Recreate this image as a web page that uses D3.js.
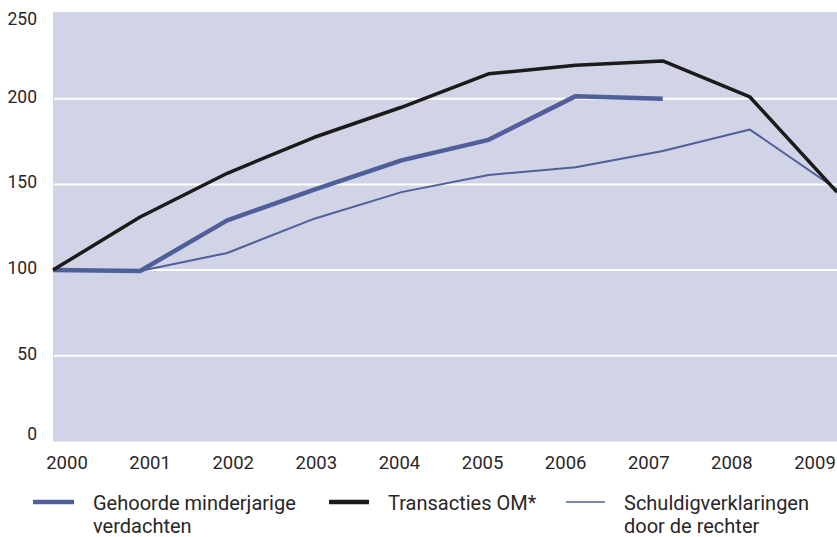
<!DOCTYPE html>
<html>
<head>
<meta charset="utf-8">
<script src="https://cdn.jsdelivr.net/npm/d3@7"></script>
<style>
  body { margin: 0; background: #fff; }
  svg text { font-family: Roboto, "Liberation Sans", sans-serif; fill: #2a2627; }
</style>
</head>
<body>
<div id="chart"></div>
<script>
const WIDTH = 837;
const HEIGHT = 537;

// data (index 2000 = 100)
const years = [2000, 2001, 2002, 2003, 2004, 2005, 2006, 2007, 2008, 2009];
const gehoorde = [100, 99.5, 129, 147, 164, 176, 201.5, 200, null, null];
const transacties = [100, 131, 156.5, 177.5, 195, 214.5, 219.5, 222, 201, 145.5];
const schuldig = [100, 99.5, 110, 130, 145.5, 155.5, 160, 169.5, 182, 147];
const yTicks = [0, 50, 100, 150, 200, 250];

const series = [
  { name: ['Gehoorde minderjarige', 'verdachten'], values: gehoorde, color: '#4f5f9a', width: 4.5, lx: 33, sw: 41, tx: 93 },
  { name: ['Transacties OM*'], values: transacties, color: '#1c1a1a', width: 3.5, lx: 329, sw: 40, tx: 388 },
  { name: ['Schuldigverklaringen', 'door de rechter'], values: schuldig, color: '#4f5f9a', width: 2, lx: 566, sw: 39, tx: 624 }
];

const plot = { left: 53, right: 837, top: 13, bottom: 441.5 };

const x = d3.scalePoint().domain(years).range([plot.left, plot.right]);
// tick labels sit on their own evenly spaced grid
const xLabel = d3.scalePoint().domain(years).range([67, 815]);
const y = d3.scaleLinear().domain([0, 250]).range([plot.bottom, plot.top]);

const svg = d3.select('#chart').append('svg')
  .attr('width', WIDTH)
  .attr('height', HEIGHT);

// background
svg.append('rect')
  .attr('x', plot.left).attr('y', plot.top - 1)
  .attr('width', plot.right - plot.left)
  .attr('height', plot.bottom - plot.top + 1)
  .attr('fill', '#d0d4e6');

// gridlines
svg.append('g').selectAll('line')
  .data(yTicks.filter(d => d > 0 && d < 250))
  .enter().append('line')
  .attr('x1', plot.left + 1).attr('x2', plot.right)
  .attr('y1', d => y(d)).attr('y2', d => y(d))
  .attr('stroke', '#fff').attr('stroke-width', 2);

// y labels
svg.append('g').selectAll('text')
  .data(yTicks)
  .enter().append('text')
  .attr('x', 37)
  .attr('y', d => y(d) + (d === 250 ? 12 : d === 0 ? -1.5 : 4))
  .attr('text-anchor', 'end')
  .style('font-size', '17.5px')
  .text(d => d);

// x labels
svg.append('g').selectAll('text')
  .data(years)
  .enter().append('text')
  .attr('x', d => xLabel(d))
  .attr('y', 469)
  .attr('text-anchor', 'middle')
  .style('font-size', '18.5px')
  .text(d => d);

// lines
svg.append('clipPath').attr('id', 'plotclip')
  .append('rect')
  .attr('x', plot.left - 3).attr('y', 0)
  .attr('width', plot.right - plot.left + 3).attr('height', HEIGHT);

const line = d3.line()
  .defined(d => d.v !== null)
  .x(d => x(d.year))
  .y(d => y(d.v));

const lines = svg.append('g').attr('clip-path', 'url(#plotclip)');
[series[2], series[0], series[1]].forEach(s => {
  lines.append('path')
    .datum(years.map((yr, i) => ({ year: yr, v: s.values[i] })))
    .attr('d', line)
    .attr('fill', 'none')
    .attr('stroke', s.color)
    .attr('stroke-width', s.width)
    .attr('stroke-linejoin', 'round');
});

// legend
const legend = svg.append('g');
series.forEach(s => {
  const g = legend.append('g');
  g.append('line')
    .attr('x1', s.lx).attr('x2', s.lx + s.sw)
    .attr('y1', 502).attr('y2', 502)
    .attr('stroke', s.color)
    .attr('stroke-width', s.width === 2 ? 1.5 : 4.5);
  g.selectAll('text')
    .data(s.name)
    .enter().append('text')
    .attr('x', s.tx)
    .attr('y', (d, i) => 510 + i * 22.5)
    .style('font-size', '20px')
    .text(d => d);
});
</script>
</body>
</html>
